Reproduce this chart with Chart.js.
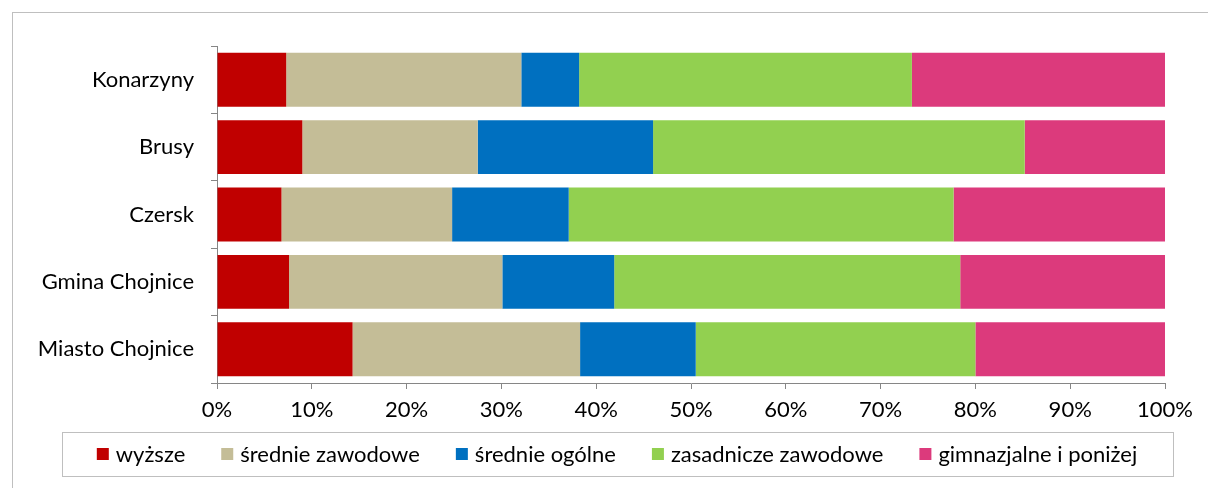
<!DOCTYPE html>
<html>
<head>
<meta charset="utf-8">
<script src="https://cdn.jsdelivr.net/npm/chart.js@4"></script>
<style>
  body { margin: 0; background: #fff; }
  #frame {
    position: absolute; left: 12px; top: 12px;
    width: 1208px; height: 480px;
    border: 1px solid #bfbfbf;
  }
</style>
</head>
<body>
<div id="frame"><canvas id="eduChart" width="1208" height="480"></canvas></div>
<script>
// categories (top to bottom)
const gminy = ['Konarzyny', 'Brusy', 'Czersk', 'Gmina Chojnice', 'Miasto Chojnice'];

// share of each education level, in %
const wyzsze      = [7.3, 9.0, 6.8, 7.6, 14.3];
const srZawodowe  = [24.8, 18.5, 18.0, 22.5, 24.0];
const srOgolne    = [6.1, 18.5, 12.3, 11.8, 12.2];
const zasadnicze  = [35.1, 39.2, 40.6, 36.5, 29.5];
const gimnazjalne = [26.7, 14.8, 22.3, 21.6, 20.0];

const xTicks = [0, 10, 20, 30, 40, 50, 60, 70, 80, 90, 100];

const font = 'Lato';
const fontSize = 22;

// legend drawn by hand: boxed, one row, like in Excel
const boxedLegend = {
  id: 'boxedLegend',
  afterDraw(chart) {
    const c = chart.ctx;
    const sets = chart.data.datasets;
    const cy = 441, sq = 12, gapText = 7, gapItem = 36;
    c.save();
    c.font = fontSize + 'px ' + font;
    c.textBaseline = 'middle';
    c.textAlign = 'left';
    const widths = sets.map(ds => c.measureText(ds.label).width);
    let total = widths.reduce((a, w) => a + sq + gapText + w, 0) + gapItem * (sets.length - 1);
    let x = 604 - total / 2;
    sets.forEach((ds, i) => {
      c.fillStyle = ds.backgroundColor;
      c.fillRect(x, cy - sq / 2, sq, sq);
      c.fillStyle = '#000';
      c.fillText(ds.label, x + sq + gapText, cy + 1);
      x += sq + gapText + widths[i] + gapItem;
    });
    c.strokeStyle = '#bfbfbf';
    c.lineWidth = 1;
    c.strokeRect(49.5, 419.5, 1111, 44);
    c.restore();
  }
};

document.addEventListener('DOMContentLoaded', function () {
  const ctx = document.getElementById('eduChart').getContext('2d');

  const chartData = {
    labels: gminy,
    datasets: [
      { label: 'wyższe', data: wyzsze, backgroundColor: '#C00000' },
      { label: 'średnie zawodowe', data: srZawodowe, backgroundColor: '#C4BD97' },
      { label: 'średnie ogólne', data: srOgolne, backgroundColor: '#0070C0' },
      { label: 'zasadnicze zawodowe', data: zasadnicze, backgroundColor: '#92D050' },
      { label: 'gimnazjalne i poniżej', data: gimnazjalne, backgroundColor: '#DC3A7C' }
    ]
  };

  new Chart(ctx, {
    type: 'bar',
    data: chartData,
    plugins: [boxedLegend],
    options: {
      indexAxis: 'y',
      responsive: false,
      animation: false,
      barPercentage: 0.8,
      categoryPercentage: 1,
      layout: { padding: { top: 33, right: 56, bottom: 70, left: 0 } },
      scales: {
        x: {
          stacked: true,
          min: 0,
          max: 100,
          afterBuildTicks: function (scale) {
            scale.ticks = xTicks.map(v => ({ value: v }));
          },
          afterFit: function (scale) { scale.height = 40; },
          border: { color: '#868686', width: 1 },
          grid: { drawOnChartArea: false, tickLength: 6, color: '#868686' },
          ticks: {
            color: '#000',
            padding: 8,
            font: { family: font, size: fontSize },
            callback: v => v + '%'
          }
        },
        y: {
          stacked: true,
          afterFit: function (scale) { scale.width = 204; },
          border: { color: '#868686', width: 1 },
          grid: { drawOnChartArea: false, tickLength: 6, color: '#868686', offset: true },
          ticks: {
            color: '#000',
            padding: 17,
            font: { family: font, size: fontSize }
          }
        }
      },
      plugins: {
        tooltip: { enabled: false },
        legend: { display: false }
      }
    }
  });
});
</script>
</body>
</html>
